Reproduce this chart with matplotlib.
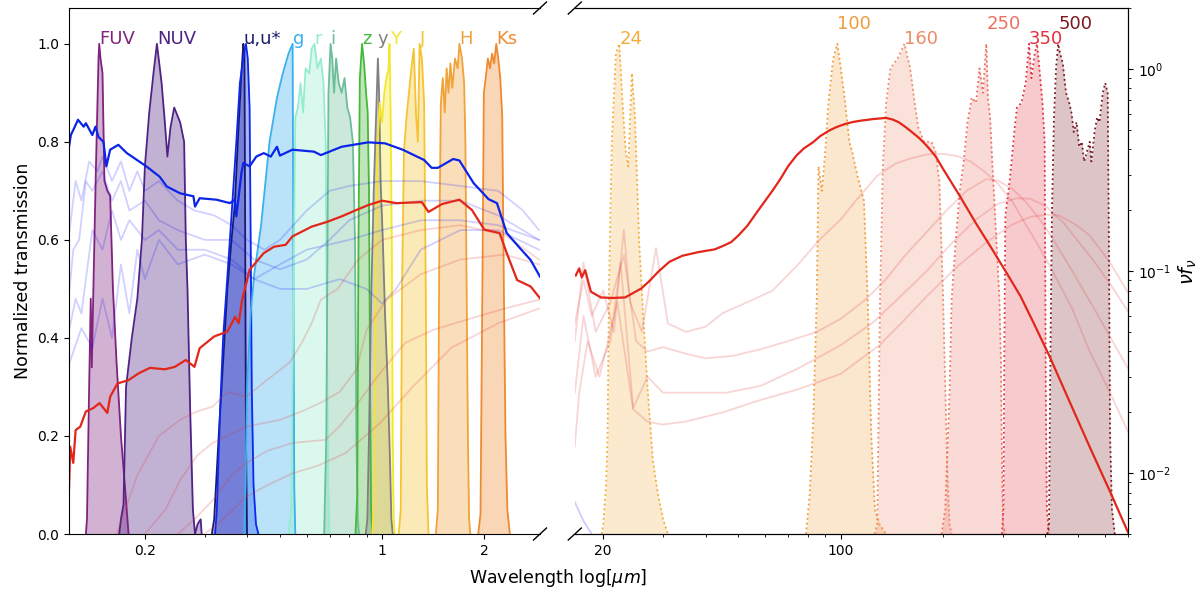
import numpy as np
import matplotlib
matplotlib.use("Agg")
import matplotlib.pyplot as plt
from matplotlib.ticker import NullFormatter

# ---- UV / optical / NIR filters (micron, normalized transmission) ----
fuv_wl = [0.134, 0.135, 0.137, 0.1385, 0.1395, 0.141, 0.1435, 0.146, 0.1467, 0.148, 0.150, 0.152, 0.155, 0.158,
          0.161, 0.165, 0.170, 0.175, 0.179]
fuv_tr = [0.0, 0.03, 0.3, 0.48, 0.34, 0.5, 0.75, 0.97, 1.0, 0.97, 0.94, 0.72, 0.70, 0.69, 0.5, 0.35, 0.2, 0.09, 0.0]

nuv_wl = [0.168, 0.170, 0.173, 0.176, 0.183, 0.190, 0.196, 0.200, 0.206, 0.212, 0.217, 0.224, 0.229, 0.233, 0.238,
          0.244, 0.254, 0.261, 0.264, 0.267, 0.272, 0.277, 0.281, 0.286, 0.292, 0.294]
nuv_tr = [0.0, 0.03, 0.06, 0.3, 0.4, 0.48, 0.6, 0.75, 0.86, 0.94, 1.0, 0.92, 0.84, 0.77, 0.83,
          0.87, 0.84, 0.80, 0.6, 0.5, 0.25, 0.05, 0.0, 0.02, 0.03, 0.0]

u_wl = [0.315, 0.32, 0.33, 0.34, 0.35, 0.36, 0.368, 0.377, 0.385, 0.39, 0.393, 0.395, 0.397, 0.40]
u_tr = [0.0, 0.03, 0.2, 0.35, 0.5, 0.6, 0.67, 0.82, 0.94, 1.0, 0.98, 0.6, 0.2, 0.0]

ustar_wl = [0.322, 0.326, 0.333, 0.34, 0.348, 0.36, 0.372, 0.381, 0.39, 0.397, 0.402, 0.407, 0.410, 0.413, 0.418,
            0.425, 0.432]
ustar_tr = [0.0, 0.05, 0.25, 0.4, 0.5, 0.65, 0.8, 0.92, 0.97, 1.0, 0.97, 0.87, 0.6, 0.3, 0.1, 0.02, 0.0]

g_wl = [0.392, 0.396, 0.40, 0.41, 0.42, 0.44, 0.466, 0.49, 0.51, 0.53, 0.545, 0.548, 0.551, 0.555]
g_tr = [0.0, 0.1, 0.3, 0.45, 0.53, 0.63, 0.8, 0.89, 0.94, 0.98, 1.0, 0.5, 0.1, 0.0]

r_wl = [0.53, 0.54, 0.548, 0.555, 0.565, 0.575, 0.585, 0.595, 0.61, 0.62, 0.632, 0.645, 0.66, 0.672, 0.682,
        0.688, 0.694, 0.70]
r_tr = [0.0, 0.05, 0.5, 0.85, 0.87, 0.92, 0.86, 0.95, 0.94, 0.99, 1.0, 0.95, 0.97, 0.92, 0.8, 0.4, 0.1, 0.0]

i_wl = [0.675, 0.685, 0.695, 0.705, 0.713, 0.722, 0.732, 0.745, 0.76, 0.775, 0.79, 0.805, 0.82, 0.832, 0.84,
        0.848, 0.855]
i_tr = [0.0, 0.2, 0.9, 1.0, 0.97, 0.9, 0.97, 0.92, 0.9, 0.93, 0.87, 0.85, 0.8, 0.6, 0.2, 0.03, 0.0]

z_wl = [0.835, 0.845, 0.852, 0.86, 0.873, 0.885, 0.897, 0.907, 0.915, 0.922, 0.928, 0.935]
z_tr = [0.0, 0.08, 0.6, 0.93, 1.0, 0.96, 0.9, 0.86, 0.7, 0.3, 0.05, 0.0]

y_wl = [0.895, 0.905, 0.915, 0.93, 0.945, 0.96, 0.972, 0.98, 0.99, 1.005, 1.02, 1.04, 1.055, 1.065, 1.075]
y_tr = [0.0, 0.03, 0.2, 0.5, 0.7, 0.85, 0.97, 0.9, 0.72, 0.6, 0.45, 0.3, 0.15, 0.03, 0.0]

Y_wl = [0.935, 0.945, 0.952, 0.96, 0.97, 0.985, 1.0, 1.015, 1.03, 1.045, 1.052, 1.06, 1.068, 1.075, 1.082, 1.09]
Y_tr = [0.0, 0.05, 0.4, 0.65, 0.8, 0.88, 0.84, 0.9, 0.93, 0.95, 1.0, 0.85, 0.6, 0.2, 0.03, 0.0]

J_wl = [1.12, 1.135, 1.145, 1.16, 1.18, 1.2, 1.22, 1.24, 1.26, 1.275, 1.29, 1.31, 1.33, 1.345, 1.355, 1.37]
J_tr = [0.0, 0.05, 0.5, 0.78, 0.85, 0.9, 0.95, 0.99, 0.85, 0.8, 1.0, 0.97, 0.88, 0.5, 0.1, 0.0]

H_wl = [1.44, 1.46, 1.475, 1.49, 1.51, 1.53, 1.55, 1.57, 1.59, 1.61, 1.64, 1.67, 1.69, 1.72, 1.745, 1.76, 1.775,
        1.79, 1.805, 1.82]
H_tr = [0.0, 0.05, 0.6, 0.88, 0.93, 0.86, 0.95, 0.9, 0.96, 0.91, 0.97, 0.95, 1.0, 0.97, 0.92, 0.8, 0.5,
        0.2, 0.03, 0.0]

Ks_wl = [1.92, 1.95, 1.975, 1.995, 2.02, 2.05, 2.08, 2.11, 2.14, 2.17, 2.2, 2.23, 2.26, 2.285, 2.31, 2.34, 2.38]
Ks_tr = [0.0, 0.04, 0.5, 0.9, 0.93, 0.97, 0.95, 0.98, 0.96, 1.0, 0.97, 0.93, 0.85, 0.5, 0.2, 0.05, 0.0]

# ---- far-IR filters ----
f24_wl = [19.8, 20.0, 20.4, 20.6, 20.8, 21.2, 21.8, 22.3, 22.8, 23.3, 23.7, 24.0, 24.3, 24.8, 25.5, 26.2, 27.0,
          28.0, 29.0, 30.0, 31.0]
f24_tr = [0.0, 0.02, 0.1, 0.2, 0.5, 0.8, 0.98, 1.0, 0.88, 0.78, 0.75, 0.85, 0.94, 0.85, 0.6, 0.45, 0.3,
          0.15, 0.08, 0.03, 0.0]

f100_wl = [79, 81, 83, 85, 86, 88, 90, 92, 95, 97.7, 100, 103, 106, 108, 112, 117, 120, 123, 126, 130, 136]
f100_tr = [0.0, 0.08, 0.23, 0.48, 0.75, 0.70, 0.78, 0.88, 0.97, 1.0, 0.95, 0.88, 0.8, 0.78, 0.73, 0.68, 0.48,
           0.2, 0.05, 0.02, 0.0]

f160_wl = [126, 128, 129, 130.5, 133, 136, 140, 147, 154, 160, 165, 169, 176, 185, 190, 195, 200, 203, 206, 209, 212]
f160_tr = [0.0, 0.02, 0.2, 0.48, 0.75, 0.88, 0.95, 0.97, 1.0, 0.95, 0.88, 0.83, 0.8, 0.8, 0.78, 0.72, 0.48,
           0.3, 0.12, 0.02, 0.0]

f250_wl = [198, 203, 209, 212, 218, 224, 230, 236, 243, 250, 256, 262, 268, 271, 275, 279, 287, 293, 296, 298,
           300, 305]
f250_tr = [0.0, 0.05, 0.29, 0.48, 0.6, 0.7, 0.76, 0.84, 0.89, 0.88, 0.95, 0.9, 1.0, 0.89, 0.85, 0.76, 0.6, 0.48,
           0.35, 0.15, 0.02, 0.0]

f350_wl = [298, 301, 303, 305, 314, 320, 325, 330, 340, 350, 358, 364, 372, 378, 384, 392, 398, 401, 404, 410]
f350_tr = [0.0, 0.05, 0.4, 0.65, 0.72, 0.78, 0.83, 0.87, 0.88, 0.92, 1.0, 0.93, 0.98, 1.0, 0.95, 0.88, 0.8,
           0.3, 0.05, 0.0]

f500_wl = [405, 410, 413, 418, 424, 430, 436, 442, 450, 460, 470, 477, 485, 494, 503, 512, 520, 530, 540, 546,
           558, 568, 577, 590, 600, 610, 615, 620, 628, 640]
f500_tr = [0.0, 0.02, 0.3, 0.65, 0.85, 0.95, 1.0, 0.98, 0.96, 0.9, 0.88, 0.86, 0.82, 0.84, 0.79, 0.8, 0.76,
           0.78, 0.8, 0.76, 0.82, 0.85, 0.84, 0.9, 0.92, 0.9, 0.6, 0.2, 0.05, 0.0]

# ---- SEDs, left panel ----
sed_blue_wl = [0.1195, 0.121, 0.123, 0.127, 0.132, 0.134, 0.14, 0.143, 0.146, 0.151, 0.154, 0.158, 0.167, 0.177,
               0.202, 0.221, 0.232, 0.254, 0.278, 0.281, 0.29, 0.325, 0.356, 0.368, 0.372, 0.385, 0.39, 0.407,
               0.426, 0.448, 0.47, 0.49, 0.50, 0.544, 0.63, 0.66, 0.76, 0.91, 1.02, 1.15, 1.33, 1.40, 1.46, 1.62,
               1.69, 1.86, 2.06, 2.18, 2.33, 2.55, 2.74, 2.92]
sed_blue_v = [0.79, 0.814, 0.824, 0.845, 0.831, 0.838, 0.814, 0.831, 0.81, 0.8, 0.75, 0.784, 0.794, 0.777,
              0.75, 0.729, 0.709, 0.695, 0.689, 0.668, 0.685, 0.682, 0.675, 0.682, 0.648, 0.736, 0.757, 0.75,
              0.77, 0.777, 0.77, 0.79, 0.772, 0.784, 0.78, 0.773, 0.79, 0.799, 0.797, 0.784, 0.763, 0.747, 0.747,
              0.765, 0.762, 0.716, 0.683, 0.675, 0.614, 0.583, 0.559, 0.525]

sed_red_wl = [0.1195, 0.1205, 0.123, 0.125, 0.129, 0.134, 0.141, 0.147, 0.155, 0.158, 0.166, 0.179, 0.192, 0.207,
              0.229, 0.245, 0.264, 0.28, 0.29, 0.32, 0.35, 0.369, 0.378, 0.387, 0.407, 0.448, 0.48, 0.52, 0.544,
              0.62, 0.69, 0.76, 0.84, 0.91, 1.0, 1.1, 1.31, 1.37, 1.5, 1.69, 1.84, 2.0, 2.22, 2.33, 2.5, 2.74, 2.92]
sed_red_v = [0.09, 0.178, 0.145, 0.212, 0.219, 0.25, 0.257, 0.267, 0.247, 0.28, 0.307, 0.314, 0.328, 0.339,
             0.336, 0.341, 0.355, 0.341, 0.379, 0.403, 0.413, 0.443, 0.43, 0.478, 0.539, 0.573, 0.586, 0.59, 0.607,
             0.627, 0.637, 0.648, 0.661, 0.671, 0.68, 0.675, 0.677, 0.657, 0.673, 0.682, 0.661, 0.621, 0.614,
             0.573, 0.518, 0.505, 0.481]

# faint comparison SEDs, left panel
blue1_wl = [0.12, 0.125, 0.13, 0.137, 0.145, 0.15, 0.16, 0.17, 0.18, 0.19, 0.2, 0.22, 0.25, 0.28, 0.32, 0.36, 0.4,
            0.45, 0.5, 0.6, 0.7, 0.8, 1.0, 1.3, 1.7, 2.2, 2.6, 2.9]
blue1_v = [0.62, 0.72, 0.68, 0.76, 0.74, 0.77, 0.72, 0.76, 0.7, 0.74, 0.7, 0.72, 0.68, 0.66, 0.65, 0.63, 0.6,
           0.58, 0.6, 0.66, 0.7, 0.71, 0.72, 0.72, 0.71, 0.7, 0.66, 0.62]
blue2_wl = [0.12, 0.123, 0.128, 0.134, 0.14, 0.15, 0.16, 0.17, 0.18, 0.2, 0.22, 0.25, 0.3, 0.36, 0.42, 0.5, 0.6,
            0.7, 0.8, 1.0, 1.3, 1.7, 2.2, 2.9]
blue2_v = [0.5, 0.58, 0.6, 0.72, 0.7, 0.74, 0.68, 0.72, 0.66, 0.68, 0.64, 0.62, 0.6, 0.6, 0.56, 0.54, 0.56, 0.6,
           0.64, 0.67, 0.68, 0.68, 0.65, 0.6]
blue3_wl = [0.12, 0.125, 0.13, 0.14, 0.15, 0.16, 0.17, 0.18, 0.2, 0.22, 0.25, 0.3, 0.36, 0.42, 0.5, 0.6, 0.75,
            0.9, 1.0, 1.1, 1.3, 1.7, 2.2, 2.9]
blue3_v = [0.42, 0.48, 0.45, 0.62, 0.58, 0.66, 0.6, 0.64, 0.6, 0.62, 0.58, 0.58, 0.56, 0.52, 0.5, 0.5, 0.52,
           0.5, 0.47, 0.5, 0.58, 0.62, 0.62, 0.58]
blue4_wl = [0.12, 0.13, 0.14, 0.15, 0.16, 0.17, 0.18, 0.19, 0.2, 0.22, 0.25, 0.3, 0.36, 0.42, 0.5, 0.6, 0.8,
            1.0, 1.3, 1.7, 2.2, 2.9]
blue4_v = [0.35, 0.42, 0.38, 0.48, 0.4, 0.55, 0.45, 0.58, 0.52, 0.6, 0.55, 0.57, 0.55, 0.52, 0.55, 0.58, 0.6,
           0.62, 0.64, 0.64, 0.63, 0.6]

red1_wl = [0.165, 0.19, 0.22, 0.254, 0.285, 0.317, 0.35, 0.398, 0.45, 0.534, 0.58, 0.62, 0.66, 0.74, 0.85, 1.0,
           1.3, 1.7, 2.3, 2.9]
red1_v = [0.0, 0.12, 0.2, 0.233, 0.25, 0.26, 0.29, 0.28, 0.31, 0.35, 0.39, 0.43, 0.478, 0.5, 0.56, 0.6,
          0.62, 0.63, 0.61, 0.56]
red2_wl = [0.2, 0.23, 0.254, 0.285, 0.317, 0.398, 0.5, 0.58, 0.655, 0.75, 0.84, 0.9, 1.03, 1.3, 1.7, 2.3, 2.9]
red2_v = [0.0, 0.05, 0.11, 0.16, 0.186, 0.219, 0.233, 0.25, 0.267, 0.29, 0.335, 0.416, 0.478, 0.53, 0.56, 0.57,
          0.55]
red3_wl = [0.25, 0.28, 0.317, 0.36, 0.398, 0.46, 0.546, 0.68, 0.75, 0.82, 0.985, 1.17, 1.41, 1.77, 2.3, 2.9]
red3_v = [0.0, 0.03, 0.069, 0.12, 0.145, 0.17, 0.186, 0.192, 0.22, 0.253, 0.328, 0.39, 0.416, 0.437, 0.46,
          0.478]
red4_wl = [0.3, 0.34, 0.398, 0.46, 0.546, 0.65, 0.78, 0.985, 1.23, 1.6, 2.2, 2.9]
red4_v = [0.0, 0.03, 0.076, 0.1, 0.124, 0.14, 0.165, 0.226, 0.3, 0.38, 0.43, 0.46]

# ---- SEDs, right panel (nu f_nu) ----
fir_red_wl = [16.6, 17.0, 17.3, 17.7, 18.4, 19.7, 21.3, 23.2, 25.9, 27.5, 29.0, 31.3, 34.2, 38.1, 42.6, 45, 47.6,
              50, 53.2, 56, 59.5, 63, 66.4, 70, 74.1, 78, 82.8, 87, 92.4, 97, 103, 109, 115, 125, 136, 142, 148,
              154, 160, 170, 179, 190, 200, 224, 250, 279, 312, 338, 370, 411, 470, 542, 620, 700]
fir_red_v = [0.095, 0.103, 0.093, 0.101, 0.079, 0.074, 0.0736, 0.074, 0.082, 0.09, 0.099, 0.111, 0.119, 0.124,
             0.128, 0.133, 0.139, 0.15, 0.168, 0.19, 0.219, 0.25, 0.285, 0.33, 0.373, 0.405, 0.433, 0.465, 0.495,
             0.515, 0.534, 0.547, 0.555, 0.565, 0.572, 0.562, 0.545, 0.52, 0.495, 0.455, 0.417, 0.37, 0.32,
             0.235, 0.172, 0.128, 0.094, 0.075, 0.055, 0.038, 0.0228, 0.0133, 0.0081, 0.0051]

fir1_wl = [16.5, 17.5, 18.5, 20, 21.5, 23, 24, 26, 28.6, 31, 35, 40, 45, 53, 63, 75, 87, 100, 110, 128, 145, 160,
           180, 200, 220, 240, 265, 290, 320, 350, 385, 420, 480, 540, 620, 700]
fir1_v = [0.055, 0.09, 0.06, 0.08, 0.05, 0.16, 0.07, 0.05, 0.13, 0.055, 0.05, 0.053, 0.062, 0.07, 0.08, 0.108,
          0.144, 0.18, 0.22, 0.296, 0.34, 0.36, 0.378, 0.38, 0.37, 0.35, 0.31, 0.27, 0.22, 0.17, 0.13, 0.1,
          0.065, 0.04, 0.025, 0.016]
fir2_wl = [16.5, 17.5, 19, 21, 23, 25, 27, 30, 35, 40, 48, 58, 70, 85, 100, 118, 135, 155, 179, 205, 235, 268,
           290, 320, 350, 385, 420, 480, 560, 630, 700]
fir2_v = [0.045, 0.11, 0.05, 0.07, 0.12, 0.045, 0.04, 0.042, 0.039, 0.037, 0.038, 0.041, 0.045, 0.05, 0.058,
          0.072, 0.09, 0.12, 0.156, 0.2, 0.25, 0.285, 0.28, 0.255, 0.22, 0.18, 0.145, 0.1, 0.064, 0.045, 0.033]
fir3_wl = [16.5, 17.5, 19, 21, 22.5, 24.5, 27, 30, 35, 46, 58, 75, 100, 125, 150, 179, 210, 250, 290, 329, 360,
           400, 450, 500, 560, 630, 700]
fir3_v = [0.025, 0.06, 0.03, 0.045, 0.11, 0.021, 0.03, 0.025, 0.025, 0.025, 0.027, 0.033, 0.043, 0.056, 0.075,
          0.1, 0.135, 0.18, 0.215, 0.229, 0.228, 0.21, 0.175, 0.14, 0.11, 0.083, 0.063]
fir4_wl = [16.5, 17, 18, 19.5, 22, 24.5, 27, 29.8, 35, 45, 58, 75, 100, 130, 155, 179, 220, 270, 320, 360, 400,
           440, 490, 540, 620, 700]
fir4_v = [0.0136, 0.025, 0.045, 0.03, 0.07, 0.0207, 0.018, 0.0174, 0.018, 0.02, 0.023, 0.026, 0.031, 0.043,
          0.058, 0.075, 0.105, 0.14, 0.17, 0.185, 0.19, 0.188, 0.17, 0.15, 0.11, 0.078]
fir_blue_wl = [16.5, 17.5, 18.5]
fir_blue_v = [0.0072, 0.0058, 0.0050]

opt_names = ["FUV", "NUV", "u,u*", "", "g", "r", "i", "z", "y", "Y", "J", "H", "Ks"]
opt_colors = ["#80237F", "#4F2385", "#1B1B6E", "#0A28F0", "#3BB0EE", "#96ECCF", "#6CBE9A", "#46B93A",
              "#808080", "#F5E62A", "#F6C431", "#F2A23A", "#EE8B30"]
opt_wl = [fuv_wl, nuv_wl, u_wl, ustar_wl, g_wl, r_wl, i_wl, z_wl, y_wl, Y_wl, J_wl, H_wl, Ks_wl]
opt_tr = [fuv_tr, nuv_tr, u_tr, ustar_tr, g_tr, r_tr, i_tr, z_tr, y_tr, Y_tr, J_tr, H_tr, Ks_tr]

fir_names = ["24", "100", "160", "250", "350", "500"]
fir_colors = ["#F2AC3C", "#F09C3C", "#EE8A68", "#EE6F60", "#E2303D", "#7B1820"]
fir_wl = [f24_wl, f100_wl, f160_wl, f250_wl, f350_wl, f500_wl]
fir_tr = [f24_tr, f100_tr, f160_tr, f250_tr, f350_tr, f500_tr]


def main():
    fig = plt.figure(figsize=(12, 5.95), dpi=100)
    ax1 = fig.add_axes([0.0575, 0.1025, 0.3925, 0.884])
    ax2 = fig.add_axes([0.479, 0.1025, 0.461, 0.884])
    ax3 = ax2.twinx()

    # left panel
    for wl, tr, name, col in zip(opt_wl, opt_tr, opt_names, opt_colors):
        ax1.fill_between(wl, 0, tr, color=col, alpha=0.35, lw=0)
        ax1.plot(wl, tr, color=col, lw=1.3)
        if name:
            ax1.text(wl[int(np.argmax(tr))], 1.0, name, color=col, fontsize=13)

    for wl, v in [(blue1_wl, blue1_v), (blue2_wl, blue2_v), (blue3_wl, blue3_v), (blue4_wl, blue4_v)]:
        ax1.plot(wl, v, color="blue", alpha=0.18, lw=1.3)
    for wl, v in [(red1_wl, red1_v), (red2_wl, red2_v), (red3_wl, red3_v), (red4_wl, red4_v)]:
        ax1.plot(wl, v, color="#E03030", alpha=0.2, lw=1.3)
    ax1.plot(sed_blue_wl, sed_blue_v, color="#0B24E8", lw=1.6)
    ax1.plot(sed_red_wl, sed_red_v, color="#E3261A", lw=1.6)

    ax1.set_xscale("log")
    ax1.set_xlim(0.1195, 2.92)
    ax1.set_ylim(0, 1.073)
    ax1.set_xticks([0.2, 1, 2])
    ax1.set_xticklabels(["0.2", "1", "2"])
    ax1.xaxis.set_minor_formatter(NullFormatter())
    ax1.set_yticks([0, 0.2, 0.4, 0.6, 0.8, 1.0])
    ax1.spines["right"].set_visible(False)
    ax1.set_ylabel("Normalized transmission", fontsize=12.5)

    # right panel: filters on linear axis
    label_y = [1.0, 1.03, 1.0, 1.03, 1.0, 1.03]
    for wl, tr, name, col, ly in zip(fir_wl, fir_tr, fir_names, fir_colors, label_y):
        ax2.fill_between(wl, 0, tr, color=col, alpha=0.25, lw=0)
        ax2.plot(wl, tr, color=col, lw=1.3, ls=":")
        ax2.text(wl[int(np.argmax(tr))], ly, name, color=col, fontsize=13)
    ax2.set_xscale("log")
    ax2.set_xlim(16.5, 700)
    ax2.set_ylim(0, 1.073)
    ax2.set_xticks([20, 100])
    ax2.set_xticklabels(["20", "100"])
    ax2.xaxis.set_minor_formatter(NullFormatter())
    ax2.tick_params(left=False, labelleft=False, right=False, labelright=False)
    ax2.spines["left"].set_visible(False)

    # right panel: SEDs on log axis
    for wl, v in [(fir1_wl, fir1_v), (fir2_wl, fir2_v), (fir3_wl, fir3_v), (fir4_wl, fir4_v)]:
        ax3.plot(wl, v, color="#E03030", alpha=0.2, lw=1.3)
    ax3.plot(fir_blue_wl, fir_blue_v, color="blue", alpha=0.2, lw=1.3)
    ax3.plot(fir_red_wl, fir_red_v, color="#E3261A", lw=1.6)
    ax3.set_yscale("log")
    ax3.set_ylim(5e-3, 2)
    ax3.spines["left"].set_visible(False)
    ax3.set_ylabel(r"$\nu f_\nu$", fontsize=14)

    # broken axis marks
    kw = dict(color="k", clip_on=False, lw=1)
    dy = 0.0114
    dx1 = 0.0138
    ax1.plot((1 - dx1, 1 + dx1), (-dy, dy), transform=ax1.transAxes, **kw)
    ax1.plot((1 - dx1, 1 + dx1), (1 - dy, 1 + dy), transform=ax1.transAxes, **kw)
    dx2 = 0.0118
    ax2.plot((-dx2, dx2), (-dy, dy), transform=ax2.transAxes, **kw)
    ax2.plot((-dx2, dx2), (1 - dy, 1 + dy), transform=ax2.transAxes, **kw)

    fig.text(0.465, 0.029, r"Wavelength log[$\mu m$]", ha="center", va="center", fontsize=12.5)

    fig.savefig("out.png", dpi=100)


if __name__ == "__main__":
    main()
